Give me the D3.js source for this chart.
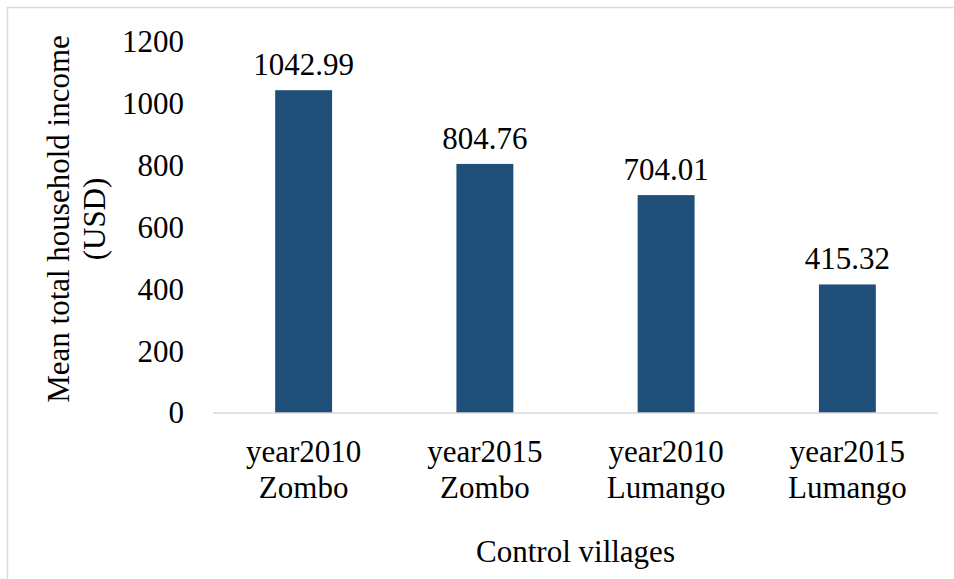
<!DOCTYPE html>
<html>
<head>
<meta charset="utf-8">
<script src="https://cdn.jsdelivr.net/npm/d3@7"></script>
<style>
  html, body { margin: 0; padding: 0; background: #fff; }
  svg { display: block; }
  svg text { font-family: "Liberation Serif", "Times New Roman", serif !important; fill: #000; }
</style>
</head>
<body>
<svg id="chart" width="954" height="579" font-family="Liberation Serif, serif"></svg>
<script>
// Mean total household income in control villages
const categories = [
  ["year2010", "Zombo"],
  ["year2015", "Zombo"],
  ["year2010", "Lumango"],
  ["year2015", "Lumango"]
];
const incomes = [1042.99, 804.76, 704.01, 415.32];
const yTicks = [0, 200, 400, 600, 800, 1000, 1200];
const yTitle = ["Mean total household income", "(USD)"];
const xTitle = "Control villages";

const serif = '"Liberation Serif", "Times New Roman", serif';
const svg = d3.select("#chart");
const fontSize = 31;
const margin = { left: 213, right: 16, top: 41.6, bottom: 166 };
const W = 954, H = 579;

// chart frame
svg.append("rect")
  .attr("x", 7.5).attr("y", 7.5)
  .attr("width", W + 20).attr("height", H + 20)
  .attr("fill", "none").attr("stroke", "#d9d9d9").attr("stroke-width", 1.5);

const x = d3.scaleBand()
  .domain(d3.range(categories.length))
  .range([margin.left, W - margin.right])
  .paddingInner(0.686)
  .paddingOuter(0.343);

const y = d3.scaleLinear()
  .domain([0, 1200])
  .range([H - margin.bottom, margin.top]);

// y axis labels (no line, no ticks)
const yAxis = d3.axisLeft(y).tickValues(yTicks).tickSize(0).tickPadding(0).tickFormat(d3.format("d"));
const gy = svg.append("g").attr("transform", `translate(184,0)`).call(yAxis);
gy.attr("font-family", serif).attr("font-size", fontSize);
gy.select(".domain").remove();
gy.selectAll("text")
  .style("font-family", serif)
  .style("font-size", fontSize + "px")
  .attr("fill", "#000");

// bars
svg.append("g").selectAll("rect")
  .data(incomes)
  .join("rect")
  .attr("x", (d, i) => x(i))
  .attr("y", d => y(d))
  .attr("width", x.bandwidth())
  .attr("height", d => y(0) - y(d))
  .attr("fill", "#1f4e79");

// value labels
svg.append("g").selectAll("text")
  .data(incomes)
  .join("text")
  .attr("x", (d, i) => x(i) + x.bandwidth() / 2)
  .attr("y", d => y(d) - 15)
  .attr("text-anchor", "middle")
  .style("font-family", serif)
  .style("font-size", fontSize + "px")
  .text(d => d.toFixed(2));

// category axis baseline
svg.append("line")
  .attr("x1", margin.left).attr("x2", W - margin.right)
  .attr("y1", y(0)).attr("y2", y(0))
  .attr("stroke", "#d9d9d9").attr("stroke-width", 1.5);

// category labels (two lines)
const cat = svg.append("g").selectAll("text")
  .data(categories)
  .join("text")
  .attr("text-anchor", "middle")
  .style("font-family", serif)
  .style("font-size", fontSize + "px");
cat.each(function (d, i) {
  const t = d3.select(this);
  d.forEach((line, j) => {
    t.append("tspan")
      .attr("x", x(i) + x.bandwidth() / 2)
      .attr("y", 462 + j * 36)
      .text(line);
  });
});

// x axis title
svg.append("text")
  .attr("x", (margin.left + W - margin.right) / 2)
  .attr("y", 562)
  .attr("text-anchor", "middle")
  .style("font-family", serif)
  .style("font-size", fontSize + "px")
  .text(xTitle);

// y axis title (two lines, rotated)
const yt = svg.append("text")
  .attr("transform", "translate(0,219) rotate(-90)")
  .attr("text-anchor", "middle")
  .style("font-family", serif)
  .style("font-size", fontSize + "px");
yTitle.forEach((line, j) => {
  yt.append("tspan").attr("x", 0).attr("y", 69 + j * 36).text(line);
});
</script>
</body>
</html>
